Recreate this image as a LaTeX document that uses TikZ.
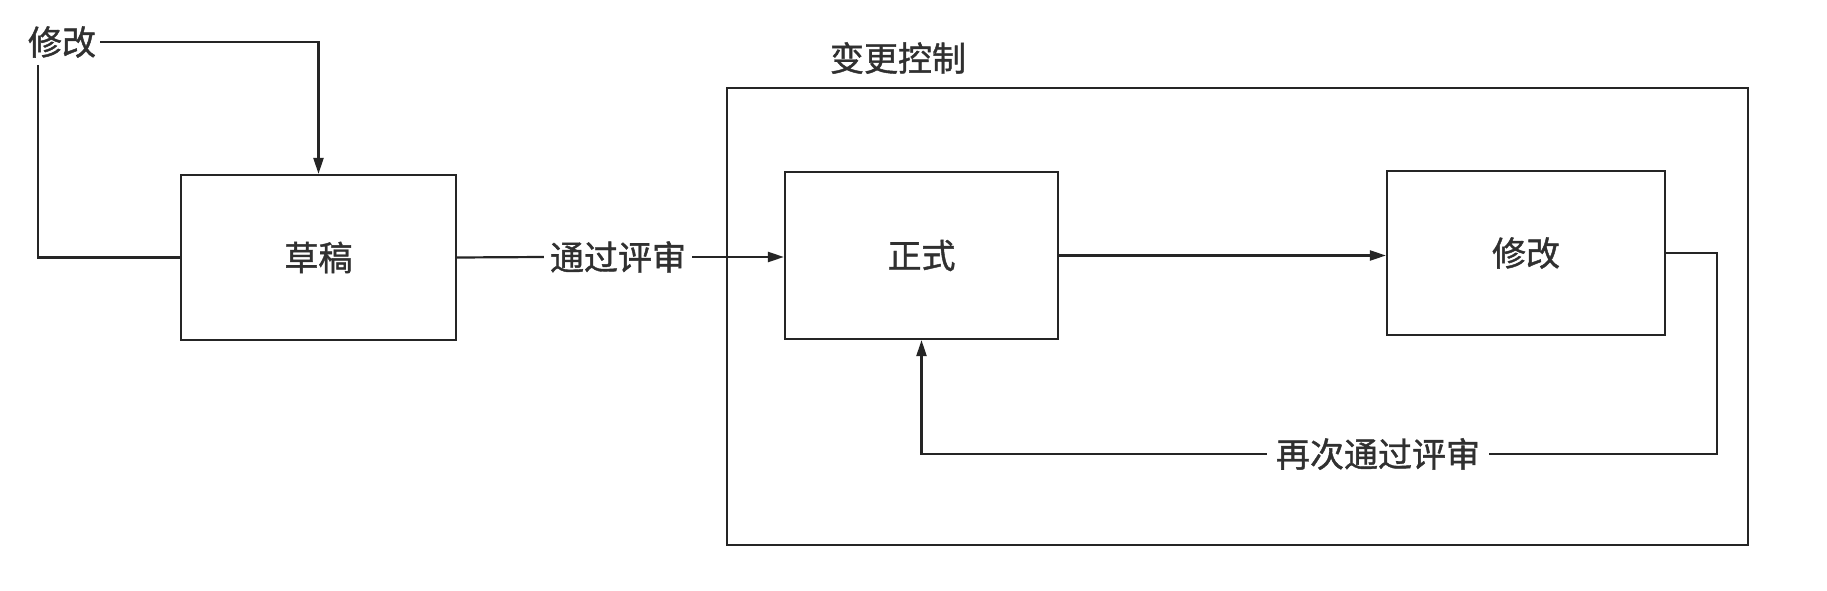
\documentclass[tikz,border=0pt]{standalone}
\usepackage{fontspec}
\setmainfont{Noto Sans CJK SC}[FakeBold=1.2]
\usetikzlibrary{arrows.meta,calc}
\definecolor{ink}{HTML}{252525}
\definecolor{txt}{HTML}{303030}
\begin{document}
\begin{tikzpicture}[x=1pt,y=-1pt,
  lbl/.style={font=\fontsize{34}{39}\selectfont, text=txt, inner sep=0pt},
  boxnode/.style={draw=ink, line width=2.2pt, minimum width=#1, font=\fontsize{34}{39}\selectfont, text=txt, inner sep=0pt},
  conn/.style={draw=ink, line width=2.2pt},
  arr/.style={conn, -{Triangle[length=16pt,width=10pt]}}]
\useasboundingbox (0,0) rectangle (1827,591);
\fill[white] (0,0) rectangle (1827,591);
% outer change-control frame
\node[draw=ink, line width=2.4pt, minimum width=1021pt, minimum height=457pt, inner sep=0pt] (frame) at (1237.5,316.5) {};
\node[lbl] (ctl) at (898,58) {变更控制};
% nodes
\node[lbl, inner sep=4pt] (x1) at (62,42) {修改};
\node[boxnode=275pt, minimum height=165pt] (draft) at (318.5,257.5) {草稿};
\node[lbl, inner sep=6pt] (pass) at (618,257) {通过评审};
\node[boxnode=273pt, minimum height=167pt] (formal) at (921.5,255.5) {正式};
\node[boxnode=278pt, minimum height=164pt] (x2) at (1526,253) {修改};
\node[lbl, inner sep=9pt] (again) at (1378,454) {再次通过评审};
\coordinate (rt) at (1717,454);
\coordinate (lf) at (38,65);
% connectors
\draw[arr] (x1.east) -| (draft.north);
\draw[conn] (lf) |- (draft.west);
\draw[conn] (draft.east) -- (pass.west);
\draw[arr] (pass.east) -- (pass.east -| formal.west);
\draw[arr] (formal.east) -- (formal.east -| x2.west);
\draw[conn] (x2.east) -| (rt) -- (again.east);
\draw[arr] (again.west) -| (formal.south);
\end{tikzpicture}
\end{document}
